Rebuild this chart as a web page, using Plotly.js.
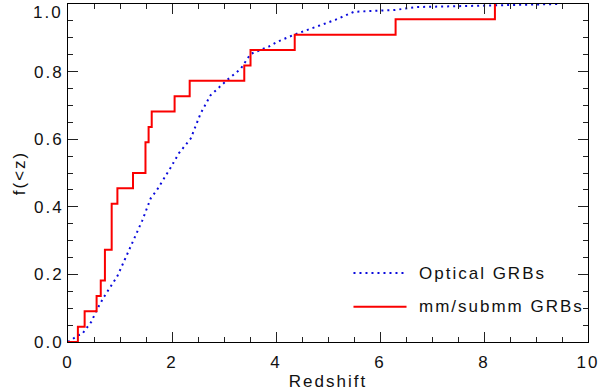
<!DOCTYPE html>
<html>
<head>
<meta charset="utf-8">
<script src="https://cdn.plot.ly/plotly-3.0.1.min.js"></script>
<style>
  body { margin: 0; background: #fff; }
  #plot { width: 600px; height: 391px; }
  #plot text { letter-spacing: 2px; }
</style>
</head>
<body>
<div id="plot"></div>
<script>
// optical GRBs, cumulative fraction
var optZ = [0, 0.2, 0.27, 0.45, 0.55, 0.69, 0.95, 1.2, 1.43, 1.59, 1.72, 1.97, 2.13, 2.36, 2.55, 2.74, 3.06, 3.32, 3.51, 3.86, 4.02, 4.38, 4.73, 5.14, 5.5, 6.27, 6.71, 8.25, 9.45];
var optF = [0, 0.02, 0.023, 0.06, 0.094, 0.133, 0.195, 0.281, 0.36, 0.425, 0.452, 0.515, 0.558, 0.602, 0.676, 0.73, 0.775, 0.808, 0.852, 0.874, 0.888, 0.911, 0.931, 0.953, 0.977, 0.982, 0.991, 0.997, 1.0];

// mm/submm GRBs, step function (22 bursts)
var mmZ = [0, 0.19, 0.32, 0.55, 0.63, 0.71, 0.84, 0.95, 1.25, 1.49, 1.55, 1.61, 2.05, 2.34, 3.39, 3.51, 4.36, 6.30, 8.21];
var mmF = [0, 0.045, 0.091, 0.136, 0.182, 0.273, 0.409, 0.455, 0.5, 0.591, 0.636, 0.682, 0.727, 0.773, 0.818, 0.864, 0.909, 0.955, 1.0];

var names = ['Optical GRBs', 'mm/submm GRBs'];
var xTicks = [0, 2, 4, 6, 8, 10];
var yTicks = [0, 0.2, 0.4, 0.6, 0.8, 1.0];

var blue = 'rgb(10,10,220)';
var red = 'rgb(250,0,0)';
var fnt = {family: 'Liberation Sans, Arial, sans-serif', size: 17, color: '#111'};

var trace1 = {
  x: optZ, y: optF,
  type: 'scatter', mode: 'lines',
  line: {color: blue, width: 2, dash: '2px,4px'},
  name: names[0], showlegend: false
};

var trace2 = {
  x: mmZ, y: mmF,
  type: 'scatter', mode: 'lines',
  line: {color: red, width: 2, shape: 'hv'},
  name: names[1], showlegend: false
};

var axisCommon = {
  showgrid: false, zeroline: false,
  showline: true, linecolor: '#000', linewidth: 1,
  mirror: 'ticks',
  ticks: 'inside', ticklen: 10, tickcolor: '#222', tickwidth: 1,
  tickfont: fnt
};

// the top label sits lower than its tick in the original, drawn as an annotation below
var yLabels = yTicks.map(function (v) { return v === 1 ? '' : v.toFixed(1); });

var layout = {
  width: 600,
  height: 391,
  margin: {l: 68, r: 12, t: 4, b: 49},
  paper_bgcolor: '#fff',
  plot_bgcolor: '#fff',
  xaxis: Object.assign({}, axisCommon, {
    range: [0, 10],
    tickvals: xTicks,
    ticktext: xTicks.map(String),
    ticklabelstandoff: 5,
    minor: {dtick: 0.5, ticks: 'inside', ticklen: 5, tickcolor: '#222'},
    title: {text: 'Redshift', font: fnt, standoff: 5}
  }),
  yaxis: Object.assign({}, axisCommon, {
    range: [0, 1],
    tickvals: yTicks,
    ticktext: yLabels,
    minor: {dtick: 0.05, ticks: 'inside', ticklen: 5, tickcolor: '#222'},
    title: {text: 'f(<z)', font: fnt, standoff: 10}
  }),
  // hand-drawn legend, like the original
  shapes: [
    {type: 'line', xref: 'paper', yref: 'paper', x0: 0.549, x1: 0.651, y0: 0.204, y1: 0.204,
     line: {color: blue, width: 2, dash: '2px,4px'}},
    {type: 'line', xref: 'paper', yref: 'paper', x0: 0.549, x1: 0.651, y0: 0.104, y1: 0.104,
     line: {color: red, width: 2}}
  ],
  annotations: [
    // letter-spacing widens the centred text, so push the boxes right by half the extra width
    {xref: 'paper', yref: 'paper', x: 0.695, y: 0.204, xanchor: 'left', yanchor: 'middle',
     text: names[0], showarrow: false, font: fnt},
    {xref: 'paper', yref: 'paper', x: 0.697, y: 0.104, xanchor: 'left', yanchor: 'middle',
     text: names[1], showarrow: false, font: fnt},
    {xref: 'paper', yref: 'paper', x: 0, y: 1, xanchor: 'right', yanchor: 'middle',
     xshift: -6, yshift: -8, text: yTicks[5].toFixed(1), showarrow: false, font: fnt}
  ]
};

Plotly.newPlot('plot', [trace1, trace2], layout, {staticPlot: true});
</script>
</body>
</html>
